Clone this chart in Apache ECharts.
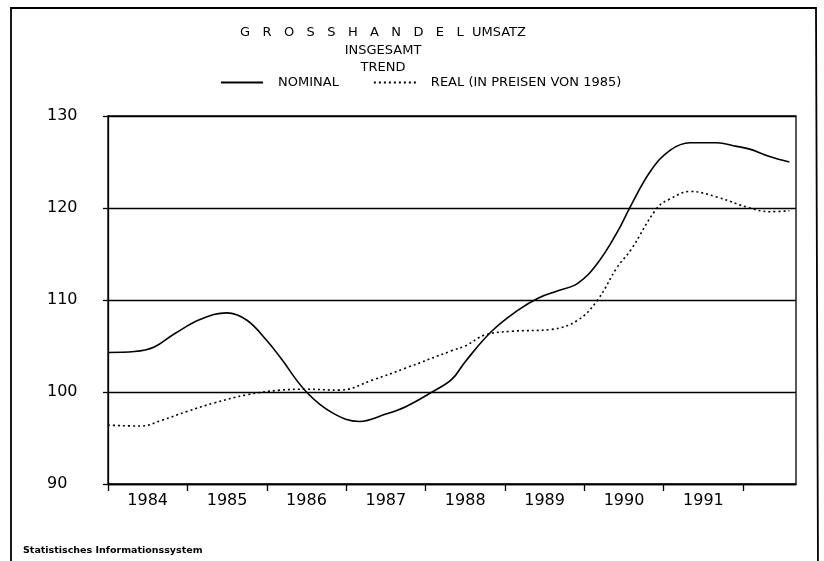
<!DOCTYPE html>
<html>
<head>
<meta charset="utf-8">
<script src="https://cdn.jsdelivr.net/npm/echarts@6/dist/echarts.min.js"></script>
<style>
  html, body { margin: 0; padding: 0; background: #fff; }
  #box1 { width: 824px; height: 561px; }
</style>
</head>
<body>
<div id="box1"></div>
<script>
// Monate Jan 1984 .. Sep 1992 (Index 0..104)
var firstYear = 1984;
var monthCount = 105;
var months = [];
for (var i = 0; i < monthCount; i++) {
  var y = firstYear + Math.floor(i / 12);
  var m = (i % 12) + 1;
  months.push(y + '-' + (m < 10 ? '0' + m : m));
}

var nominal = [
  [0, 104.3], [4, 104.4], [7, 104.9], [10, 106.3], [14, 107.9], [18, 108.6],
  [21, 107.8], [24, 105.6], [26, 103.8], [30, 100.0], [34, 97.7], [38, 96.8],
  [42, 97.6], [45, 98.4], [49, 100.0], [52, 101.4], [54, 103.3], [58, 106.6],
  [62, 108.9], [65, 110.2], [68, 111.0], [71, 111.8], [74, 114.0], [77, 117.4],
  [79, 120.2], [82, 124.0], [85, 126.3], [88, 127.1], [92, 127.1], [95, 126.7],
  [97, 126.4], [100, 125.6], [103, 125.0]
];
var real = [
  [0, 96.4], [5, 96.3], [8, 96.9], [12, 97.9], [16, 98.8], [21, 99.7],
  [26, 100.2], [30, 100.3], [35, 100.2], [40, 101.3], [45, 102.6], [52, 104.5],
  [54, 105.0], [57, 106.2], [61, 106.6], [67, 106.8], [71, 107.8], [74, 110.0],
  [77, 113.6], [79, 115.4], [83, 120.0], [85, 121.0], [88, 121.8], [92, 121.2],
  [97, 120.0], [100, 119.6], [103, 119.7]
];

var seriesNames = ['NOMINAL', 'REAL (IN PREISEN VON 1985)'];
var titleLines = ['G   R   O   S   S   H   A   N   D   E   L  UMSATZ', 'INSGESAMT', 'TREND'];
var footer = 'Statistisches Informationssystem';

var font = 'DejaVu Sans';
var myChart1 = echarts.init(document.getElementById('box1'));

var option1 = {
  backgroundColor: '#fff',
  animation: false,
  title: {
    text: titleLines.join('\n'),
    left: 383,
    top: 24,
    textAlign: 'center',
    padding: 0,
    textStyle: { fontFamily: font, fontSize: 13, fontWeight: 'normal', color: '#000', lineHeight: 17.5 }
  },
  legend: {
    data: seriesNames,
    left: 220,
    top: 76,
    itemWidth: 42,
    itemHeight: 12,
    itemGap: 34,
    padding: 0,
    itemStyle: { opacity: 0 },
    textStyle: { fontFamily: font, fontSize: 13, color: '#000', padding: [0, 0, 0, 10] }
  },
  grid: {
    left: 108, right: 28, top: 116, bottom: 77,
    show: true, borderColor: '#000', borderWidth: 1.3
  },
  xAxis: {
    type: 'category',
    data: months,
    boundaryGap: false,
    axisLine: { lineStyle: { color: '#000', width: 1.3 } },
    axisTick: {
      interval: function (idx) { return idx % 12 === 0; },
      length: 7,
      lineStyle: { color: '#000', width: 1.3 }
    },
    axisLabel: {
      interval: function (idx) { return idx % 12 === 6 && idx < 96; },
      formatter: function (v) { return v.slice(0, 4); },
      margin: 9,
      fontFamily: font, fontSize: 16, color: '#000'
    },
    splitLine: { show: false }
  },
  yAxis: {
    type: 'value',
    min: 90, max: 130, interval: 10,
    axisLine: { show: true, lineStyle: { color: '#000', width: 1.3 } },
    axisTick: { show: true, length: 5, lineStyle: { color: '#000', width: 1.3 } },
    axisLabel: { align: 'left', margin: 61, fontFamily: font, fontSize: 16, color: '#000' },
    splitLine: { lineStyle: { color: '#000', width: 1.3 } }
  },
  series: [
    {
      name: seriesNames[0],
      type: 'line',
      data: nominal,
      smooth: 0.4,
      symbol: 'none',
      lineStyle: { color: '#000', width: 1.6 },
      itemStyle: { color: '#000' }
    },
    {
      name: seriesNames[1],
      type: 'line',
      data: real,
      smooth: 0.4,
      symbol: 'none',
      lineStyle: { color: '#000', width: 1.6, type: [2, 3] },
      itemStyle: { color: '#000' }
    }
  ],
  graphic: [
    {
      type: 'polyline',
      shape: { points: [[11, 570], [11, 8], [816, 8], [818, 570]] },
      style: { stroke: '#000', lineWidth: 1.8, fill: null },
      silent: true
    },
    {
      type: 'text',
      left: 23,
      top: 546,
      style: { text: footer, fontFamily: font, fontSize: 9.5, fontWeight: 'bold', fill: '#000' }
    }
  ]
};

myChart1.setOption(option1);
</script>
</body>
</html>
